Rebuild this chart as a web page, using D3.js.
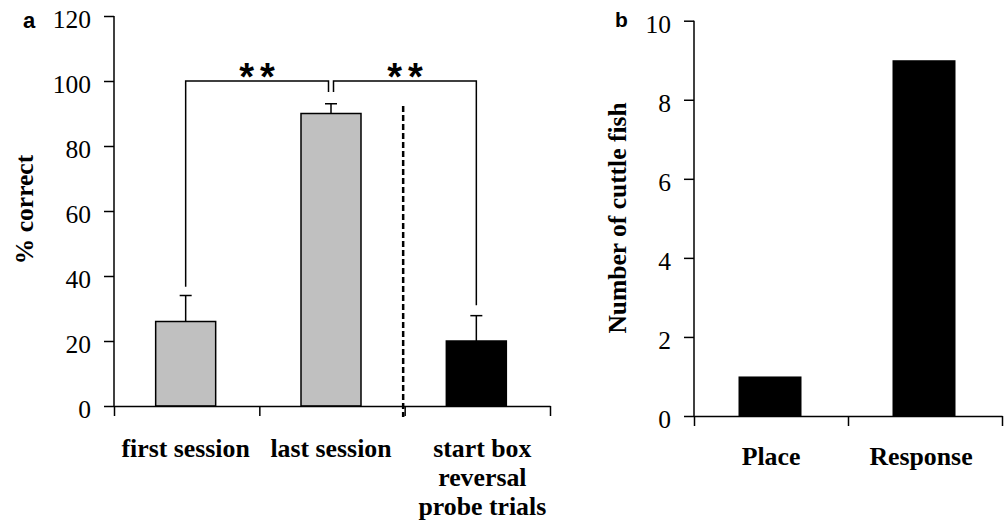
<!DOCTYPE html>
<html><head><meta charset="utf-8">
<script src="https://cdn.jsdelivr.net/npm/d3@7"></script>
<style>
html,body{margin:0;padding:0;background:#fff;}
svg{display:block;}
</style></head>
<body>
<svg id="c" width="1007" height="525"></svg>
<script>
// ---- Panel a data ----
const catsA = [["first session"], ["last session"], ["start box", "reversal", "probe trials"]];
const meansA = [26, 90, 20];
const semA = [8, 3, 7.8];
const fillA = ["#c0c0c0", "#c0c0c0", "#000000"];
const ticksA = [0, 20, 40, 60, 80, 100, 120];
const bracketFrom = [0, 1];
const bracketTo = [1, 2];
const bracketLevel = [100, 100];
const bracketLeftEnd = [36.7, 96.6];
const bracketRightEnd = [96.6, 31];
const bracketLabel = ["**", "**"];
// ---- Panel b data ----
const catsB = ["Place", "Response"];
const valuesB = [1, 9];
const ticksB = [0, 2, 4, 6, 8, 10];

const SERIF = "font-family:'Liberation Serif','Tinos','Times New Roman',serif;";
const SANS = "font-family:'Liberation Sans','Arimo',Arial,sans-serif;";

const svg = d3.select("#c");

// ===== Panel a =====
const ga = svg.append("g");
const yA = d3.scaleLinear().domain([0, 120]).range([406, 16]);
const xA = d3.scaleBand().domain(d3.range(catsA.length)).range([114, 550]);
const xAb = d3.scaleLinear().domain([0, catsA.length]).range([114, 550]);
const bwA = 60;
const cx = i => xA(i) + xA.bandwidth() / 2 - 1;

ga.selectAll("rect.bar").data(meansA).join("rect")
  .attr("x", (d, i) => cx(i) - bwA / 2)
  .attr("y", d => yA(d))
  .attr("width", bwA)
  .attr("height", d => yA(0) - yA(d))
  .attr("fill", (d, i) => fillA[i])
  .attr("stroke", "#000").attr("stroke-width", 1.5);

ga.selectAll("line.err").data(meansA).join("line")
  .attr("x1", (d, i) => cx(i)).attr("x2", (d, i) => cx(i))
  .attr("y1", d => yA(d)).attr("y2", (d, i) => yA(d + semA[i]))
  .attr("stroke", "#000").attr("stroke-width", 1.5);
ga.selectAll("line.cap").data(meansA).join("line")
  .attr("x1", (d, i) => cx(i) - 6).attr("x2", (d, i) => cx(i) + 6)
  .attr("y1", (d, i) => yA(d + semA[i])).attr("y2", (d, i) => yA(d + semA[i]))
  .attr("stroke", "#000").attr("stroke-width", 1.5);

const yAxA = ga.append("g").attr("transform", "translate(114,0)")
  .call(d3.axisLeft(yA).tickValues(ticksA).tickSize(10).tickPadding(13).tickFormat(d3.format("d")));
const xAxA = ga.append("g").attr("transform", "translate(0,406)")
  .call(d3.axisBottom(xAb).tickValues(d3.range(catsA.length + 1)).tickSize(10).tickSizeOuter(0).tickFormat(""));
[yAxA, xAxA].forEach(g => {
  g.select(".domain").attr("stroke", "#000").attr("stroke-width", 1.5);
  g.selectAll(".tick line").attr("stroke", "#000").attr("stroke-width", 1.5);
});
yAxA.select(".domain").attr("d", "M0," + yA(120) + "V" + yA(0));
yAxA.selectAll(".tick text").attr("style", SERIF + "font-size:25.5px;").attr("dy", "0.45em").attr("fill", "#000");

ga.append("line")
  .attr("x1", xAb(2) - 1.5).attr("x2", xAb(2) - 1.5)
  .attr("y1", yA(92.3)).attr("y2", yA(0) + 11)
  .attr("stroke", "#000").attr("stroke-width", 2.5).attr("stroke-dasharray", "6,3");

bracketFrom.forEach((f, k) => {
  const t = bracketTo[k];
  const xl = cx(f) + (f === 1 ? 2.5 : 0);
  const xr = cx(t) + (t === 1 ? -2.5 : 0);
  const p = d3.path();
  p.moveTo(xl, yA(bracketLeftEnd[k]));
  p.lineTo(xl, yA(bracketLevel[k]));
  p.lineTo(xr, yA(bracketLevel[k]));
  p.lineTo(xr, yA(bracketRightEnd[k]));
  ga.append("path").attr("d", p.toString()).attr("fill", "none")
    .attr("stroke", "#000").attr("stroke-width", 1.5);
  const ls = 6;
  ga.append("text").attr("x", (xl + xr) / 2 + ls / 2).attr("y", yA(bracketLevel[k]) + 9)
    .attr("text-anchor", "middle")
    .attr("style", SANS + "font-weight:bold;font-size:38px;letter-spacing:" + ls + "px;")
    .text(bracketLabel[k]);
});

catsA.forEach((lines, i) => {
  const xx = cx(i) + (lines.length > 1 ? 6 : 0);
  const t = ga.append("text").attr("text-anchor", "middle")
    .attr("style", SERIF + "font-weight:bold;font-size:25.8px;")
    .attr("x", xx).attr("y", 457);
  lines.forEach((s, j) => t.append("tspan").attr("x", xx).attr("dy", j === 0 ? 0 : 29).text(s));
});

ga.append("text").attr("transform", "translate(33,209.5) rotate(-90)")
  .attr("text-anchor", "middle").attr("style", SERIF + "font-weight:bold;font-size:25.5px;").text("% correct");
ga.append("text").attr("x", 23).attr("y", 27.7)
  .attr("style", SANS + "font-weight:bold;font-size:22px;").text("a");

// ===== Panel b =====
const gb = svg.append("g");
const yB = d3.scaleLinear().domain([0, 10]).range([416, 20.7]);
const xB = d3.scaleBand().domain(catsB).range([694, 1002]);
const xBb = d3.scaleLinear().domain([0, catsB.length]).range([694, 1002]);
const bwB = 63;

gb.selectAll("rect.bar").data(valuesB).join("rect")
  .attr("x", (d, i) => xB(catsB[i]) + xB.bandwidth() / 2 - 1 - bwB / 2)
  .attr("y", d => yB(d))
  .attr("width", bwB)
  .attr("height", d => yB(0) - yB(d))
  .attr("fill", "#000");

const yAxB = gb.append("g").attr("transform", "translate(694,0)")
  .call(d3.axisLeft(yB).tickValues(ticksB).tickSize(10).tickPadding(13).tickFormat(d3.format("d")));
const xAxB = gb.append("g").attr("transform", "translate(0,416)")
  .call(d3.axisBottom(xBb).tickValues(d3.range(catsB.length + 1)).tickSize(10).tickSizeOuter(0).tickFormat(""));
[yAxB, xAxB].forEach(g => {
  g.select(".domain").attr("stroke", "#000").attr("stroke-width", 1.5);
  g.selectAll(".tick line").attr("stroke", "#000").attr("stroke-width", 1.5);
});
yAxB.select(".domain").attr("d", "M0," + yB(10) + "V" + yB(0));
yAxB.selectAll(".tick text").attr("style", SERIF + "font-size:25.5px;").attr("dy", "0.45em").attr("fill", "#000");

gb.selectAll("text.cat").data(catsB).join("text")
  .attr("x", (d, i) => xB(d) + xB.bandwidth() / 2 - (i === 1 ? 4 : 0)).attr("y", 465)
  .attr("text-anchor", "middle").attr("style", SERIF + "font-weight:bold;font-size:25.8px;").text(d => d);

gb.append("text").attr("transform", "translate(626,218) rotate(-90)")
  .attr("text-anchor", "middle").attr("style", SERIF + "font-weight:bold;font-size:25.5px;").text("Number of cuttle fish");
gb.append("text").attr("x", 615).attr("y", 26.7)
  .attr("style", SANS + "font-weight:bold;font-size:21px;").text("b");
</script>
</body></html>
